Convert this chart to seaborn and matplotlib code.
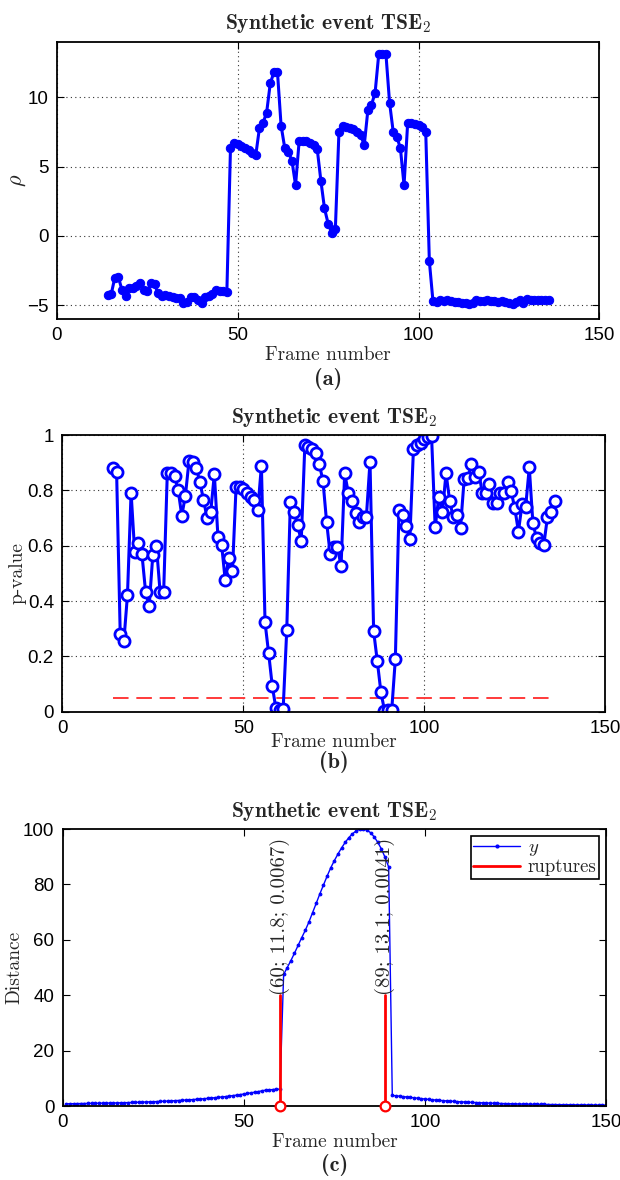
import matplotlib
matplotlib.use("Agg")
import matplotlib.pyplot as plt
import seaborn as sns
import numpy as np
from matplotlib.lines import Line2D

# ---------------- data ----------------
frame_start = 14
rho = [-4.28, -4.23, -3.03, -2.98, -3.92, -4.33, -3.80, -3.75, -3.63, -3.37,
       -3.94, -3.99, -3.44, -3.51, -4.16, -4.33, -4.28, -4.35, -4.42, -4.47,
       -4.52, -4.88, -4.76, -4.40, -4.40, -4.64, -4.88, -4.40, -4.33, -4.23,
       -3.92, -3.99, -3.97, -4.05,
       6.31, 6.67, 6.60, 6.48, 6.36, 6.19, 6.00, 5.83, 7.76, 8.15,
       8.90, 11.0, 11.8, 11.8, 7.95, 6.36, 6.07, 5.42, 3.66, 6.87,
       6.87, 6.82, 6.72, 6.55, 6.24, 3.98, 1.98, 0.89, 0.22, 0.46,
       7.52, 7.93, 7.88, 7.81, 7.71, 7.52, 7.28, 6.55, 9.08, 9.45,
       10.34, 13.1, 13.1, 13.1, 9.61, 7.52, 7.16, 6.31, 3.66, 8.12,
       8.12, 8.07, 8.00, 7.83, 7.52, -1.83,
       -4.72, -4.78, -4.65, -4.70, -4.62, -4.68, -4.75, -4.80, -4.85, -4.88,
       -4.90, -4.82, -4.65, -4.70, -4.68, -4.62, -4.70, -4.72, -4.75, -4.70,
       -4.78, -4.85, -4.90, -4.75, -4.65, -4.82, -4.55, -4.60, -4.65, -4.62,
       -4.62, -4.60, -4.65]

pvalue = [0.882, 0.865, 0.279, 0.255, 0.422, 0.792, 0.576, 0.608, 0.569, 0.434,
          0.382, 0.566, 0.600, 0.434, 0.434, 0.862, 0.864, 0.852, 0.801, 0.709,
          0.780, 0.907, 0.901, 0.880, 0.832, 0.765, 0.701, 0.723, 0.859, 0.630,
          0.603, 0.476, 0.557, 0.508, 0.813, 0.811, 0.804, 0.792, 0.777, 0.765,
          0.729, 0.889, 0.323, 0.211, 0.093, 0.012, 0.0067, 0.008, 0.295, 0.759,
          0.723, 0.675, 0.617, 0.964, 0.958, 0.950, 0.934, 0.894, 0.835, 0.687,
          0.569, 0.596, 0.596, 0.526, 0.862, 0.792, 0.762, 0.717, 0.687, 0.702,
          0.705, 0.904, 0.291, 0.184, 0.072, 0.0041, 0.006, 0.006, 0.190, 0.729,
          0.711, 0.671, 0.624, 0.950, 0.964, 0.973, 0.985, 0.992, 0.997, 0.666,
          0.777, 0.723, 0.862, 0.763, 0.702, 0.711, 0.665, 0.840, 0.844, 0.894,
          0.850, 0.868, 0.792, 0.792, 0.823, 0.753, 0.755, 0.789, 0.792, 0.832,
          0.796, 0.735, 0.651, 0.750, 0.741, 0.883, 0.681, 0.627, 0.608, 0.602,
          0.702, 0.723, 0.763]
alpha_level = 0.05

dist_start = 1
distance = [0.80, 0.82, 0.84, 0.86, 0.88, 0.90, 0.92, 0.94, 0.96, 0.98,
            1.00, 1.03, 1.06, 1.09, 1.12, 1.15, 1.19, 1.23, 1.27, 1.31,
            1.35, 1.40, 1.45, 1.50, 1.55, 1.60, 1.66, 1.72, 1.78, 1.85,
            1.92, 1.99, 2.07, 2.15, 2.24, 2.33, 2.43, 2.53, 2.64, 2.75,
            2.87, 3.00, 3.13, 3.27, 3.42, 3.58, 3.75, 3.93, 4.12, 4.32,
            4.53, 4.75, 4.98, 5.22, 5.47, 5.73, 5.85, 5.95, 6.05, 6.10,
            47.5, 50.0, 52.5, 55.2, 58.0, 60.8, 63.5, 66.5, 69.8, 73.2,
            76.6, 79.8, 83.0, 86.0, 88.6, 91.0, 93.2, 95.2, 96.9, 98.3,
            99.3, 99.9, 100.0, 99.6, 98.7, 97.2, 95.2, 92.8, 89.8, 86.3,
            3.80, 3.70, 3.55, 3.40, 3.25, 3.10, 2.95, 2.80, 2.65, 2.50,
            2.38, 2.26, 2.15, 2.04, 1.94, 1.84, 1.75, 1.66, 1.58, 1.50,
            1.43, 1.36, 1.30, 1.24, 1.18, 1.12, 1.07, 1.02, 0.98, 0.94,
            0.90, 0.86, 0.82, 0.79, 0.76, 0.73, 0.70, 0.67, 0.65, 0.62,
            0.60, 0.58, 0.56, 0.54, 0.52, 0.50, 0.48, 0.46, 0.45, 0.43,
            0.42, 0.40, 0.39, 0.38, 0.37, 0.36, 0.35, 0.34, 0.33, 0.32]

rupture_frames = [60, 89]
rupture_rho = [11.8, 13.1]
rupture_p = ["0.0067", "0.0041"]
rupture_height = 40

xticks = [0, 50, 100, 150]
yticks_a = [-5, 0, 5, 10]
yticks_b = [0, 0.2, 0.4, 0.6, 0.8, 1]
yticks_c = [0, 20, 40, 60, 80, 100]

frames_a = np.arange(frame_start, frame_start + len(rho))
frames_b = np.arange(frame_start, frame_start + len(pvalue))
frames_c = np.arange(dist_start, dist_start + len(distance))

# ---------------- style ----------------
sns.set_style("white")
plt.rcParams.update({
    "font.family": ["Liberation Sans", "DejaVu Sans"],
    "mathtext.fontset": "cm",
    "axes.linewidth": 1.3,
    "axes.edgecolor": "black",
    "xtick.direction": "in",
    "ytick.direction": "in",
    "xtick.top": True,
    "ytick.right": True,
    "xtick.bottom": True,
    "ytick.left": True,
    "xtick.major.size": 5,
    "ytick.major.size": 5,
    "xtick.color": "black",
    "ytick.color": "black",
    "xtick.labelsize": 13.5,
    "ytick.labelsize": 13.5,
})

SERIF = "cmr10"
SERIF_B = "cmb10"
BLUE = (0, 0, 1)

fig = plt.figure(figsize=(6.2, 11.8), dpi=100)
ax1 = fig.add_axes([0.0918, 0.7297, 0.8748, 0.2348])
ax2 = fig.add_axes([0.1005, 0.3969, 0.8758, 0.2344])
ax3 = fig.add_axes([0.1011, 0.0627, 0.8763, 0.2347])

title = "Synthetic event TSE$_2$"

def common(ax):
    ax.set_xlim(0, 150)
    ax.set_xticks(xticks)
    ax.set_title(title, family=SERIF_B, fontsize=15.5, pad=9)
    ax.set_xlabel("Frame number", family=SERIF, fontsize=14)
    ax.xaxis.label.set_va("center")
    ax.tick_params(axis="x", pad=6)
    ax.tick_params(axis="y", pad=6)
    for s in ax.spines.values():
        s.set_visible(True)
        s.set_color("black")

def gridify(ax):
    ax.grid(True, which="major", linestyle=(0, (1, 3)), color="#333333", linewidth=0.8)
    ax.set_axisbelow(True)

# ---- (a) ----
sns.lineplot(x=frames_a, y=rho, ax=ax1, color=BLUE, linewidth=2.2, marker="o",
             markersize=6, markeredgecolor=BLUE, markerfacecolor=BLUE, sort=False,
             errorbar=None)
common(ax1)
gridify(ax1)
ax1.set_ylim(-6, 14)
ax1.set_yticks(yticks_a)
ax1.set_ylabel(r"$\rho$", fontsize=16, va="center")
ax1.yaxis.set_label_coords(-0.072, 0.5)
ax1.xaxis.set_label_coords(0.5, -0.13)

# ---- (b) ----
sns.lineplot(x=frames_b, y=pvalue, ax=ax2, color=BLUE, linewidth=2.2, marker="o",
             markersize=8, markeredgecolor=BLUE, markerfacecolor="white",
             markeredgewidth=2, sort=False, errorbar=None)
ax2.plot([frames_b[0], frames_b[-1]], [alpha_level, alpha_level], color="#ff3a3a",
         linewidth=1.4, linestyle=(0, (8, 4)), zorder=1.5)
common(ax2)
gridify(ax2)
ax2.set_ylim(0, 1)
ax2.set_yticks(yticks_b)
ax2.set_yticklabels(["%g" % v for v in yticks_b])
ax2.set_ylabel("p-value", family=SERIF, fontsize=14, va="center")
ax2.yaxis.set_label_coords(-0.082, 0.5)
ax2.xaxis.set_label_coords(0.5, -0.11)

# ---- (c) ----
sns.lineplot(x=frames_c, y=distance, ax=ax3, color=BLUE, linewidth=1.0, marker=".",
             markersize=4, markeredgecolor=BLUE, markerfacecolor=BLUE, sort=False,
             errorbar=None)
for f, r, p in zip(rupture_frames, rupture_rho, rupture_p):
    ax3.plot([f, f], [0, rupture_height], color="red", linewidth=2)
    ax3.plot([f], [0], marker="o", markersize=7, markerfacecolor="white",
             markeredgecolor="red", markeredgewidth=1.6, clip_on=False, zorder=5)
    ax3.text(f, rupture_height, "(%d; %.1f; %s)" % (f, r, p), rotation=90,
             ha="center", va="bottom", family=SERIF, fontsize=15)
common(ax3)
ax3.set_ylim(0, 100)
ax3.set_yticks(yticks_c)
ax3.set_ylabel("Distance", family=SERIF, fontsize=14, va="center")
ax3.yaxis.set_label_coords(-0.089, 0.5)
ax3.xaxis.set_label_coords(0.5, -0.13)
handles = [Line2D([], [], color=BLUE, linewidth=1.0, marker=".", markersize=4),
           Line2D([], [], color="red", linewidth=2)]
leg = ax3.legend(handles, ["$y$", "ruptures"], loc="upper right",
                 prop={"family": SERIF, "size": 13.5}, frameon=True, fancybox=False,
                 edgecolor="black", framealpha=1, borderaxespad=0.35,
                 handlelength=2.5, handletextpad=0.4, borderpad=0.15,
                 labelspacing=0.0)
leg.get_frame().set_linewidth(1.2)

for ax, lab, ybot in [(ax1, "(a)", 379), (ax2, "(b)", 762), (ax3, "(c)", 1165)]:
    bb = ax.get_position()
    fig.text(bb.x0 + bb.width / 2, 1 - ybot / 1180, lab, family=SERIF_B,
             fontsize=16, ha="center", va="center")

fig.savefig("out.png", dpi=100)
